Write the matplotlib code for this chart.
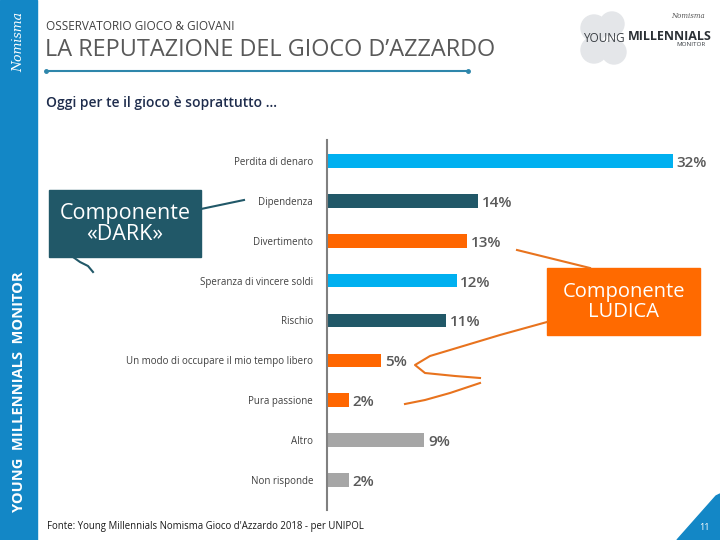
import matplotlib
matplotlib.use("Agg")
import matplotlib.pyplot as plt
from matplotlib.patches import Rectangle, Polygon, Circle
from matplotlib.lines import Line2D

# dati
categorie = ["Perdita di denaro", "Dipendenza", "Divertimento",
             "Speranza di vincere soldi", "Rischio",
             "Un modo di occupare il mio tempo libero", "Pura passione",
             "Altro", "Non risponde"]
valori = [32, 14, 13, 12, 11, 5, 2, 9, 2]
colori = ["#00B0F0", "#215868", "#FF6600", "#00B0F0", "#215868",
          "#FF6600", "#FF6600", "#A6A6A6", "#A6A6A6"]

plt.rcParams['font.family'] = ['Open Sans', 'DejaVu Sans']

fig = plt.figure(figsize=(7.2, 5.4), dpi=100)
W, H = 720, 540

# overlay in pixel per le decorazioni
deco = fig.add_axes([0, 0, 1, 1])
deco.set_xlim(0, W)
deco.set_ylim(H, 0)
deco.axis('off')

# banda laterale
deco.add_patch(Rectangle((0, 0), 37, H, color="#1387C6", zorder=1))
deco.text(19, 392, "YOUNG  MILLENNIALS  MONITOR", rotation=90, color="white",
          fontsize=10.5, fontweight='bold', ha='center', va='center')
deco.text(19, 42, "Nomisma", rotation=90, color="white", fontsize=9,
          family='DejaVu Serif', style='italic', ha='center', va='center')

# intestazione
deco.text(46, 27, "OSSERVATORIO GIOCO & GIOVANI", fontsize=8.5, color="#404040",
          va='center')
deco.text(45, 50, "LA REPUTAZIONE DEL GIOCO D\u2019AZZARDO", fontsize=16.9,
          color="#595959", va='center')
deco.add_line(Line2D([46, 468], [71, 71], color="#2E86AB", lw=1.5))
deco.plot([46, 468], [71, 71], 'o', color="#2E86AB", ms=2.5)
deco.text(46, 103, "Oggi per te il gioco è soprattutto \u2026", fontsize=10,
          color="#1F2D4D", fontweight='semibold', va='center')

# logo
for cx, cy, r in [(594, 28, 13), (612, 24, 12), (594, 50, 13), (614, 52, 12)]:
    deco.add_patch(Circle((cx, cy), r, color="#E4E6E9", zorder=1))
deco.text(583, 38, "YOUNG", fontsize=8.5, color="#3A3F44", va='center', zorder=3)
deco.text(628, 37, "MILLENNIALS", fontsize=9, color="#2B3035",
          fontweight='bold', va='center', zorder=3)
deco.text(676, 45, "MONITOR", fontsize=4.5, color="#3A3F44", va='center', zorder=3)
deco.text(688, 16, "Nomisma", fontsize=5, color="#555555", style='italic',
          family='DejaVu Serif', ha='center', va='center')

# box DARK
deco.add_patch(Rectangle((49, 190), 152, 67, color="#215868", zorder=2))
deco.text(125, 224, "Componente\n«DARK»", color="white", fontsize=15.5,
          ha='center', va='center', linespacing=1.0, zorder=3)
deco.add_line(Line2D([201, 244], [209, 200], color="#215868", lw=1.5))
deco.plot([73, 80, 88, 93], [257, 262, 266, 272], color="#215868", lw=1.5)

# box LUDICA
deco.add_patch(Rectangle((547, 268), 153, 67, color="#FF6A00", zorder=2))
deco.text(624, 302, "Componente\nLUDICA", color="white", fontsize=14.5,
          ha='center', va='center', linespacing=1.05, zorder=3)
deco.plot([517, 590], [250, 268], color="#E8731E", lw=1.5)
deco.plot([547, 500, 470, 430, 415, 425, 455, 480],
          [322, 335, 344, 356, 365, 373, 376, 378], color="#E8731E", lw=1.5)
deco.plot([480, 450, 425, 405], [383, 393, 400, 404], color="#E8731E", lw=1.5)

# fonte e numero pagina
deco.text(47, 526, "Fonte: Young Millennials Nomisma Gioco d'Azzardo 2018 - per UNIPOL",
          fontsize=6.9, color="#1A1A1A", va='center')
deco.add_patch(Polygon([(720, 494), (716, 496), (677, 540), (720, 540)],
                       closed=True, color="#1387C6"))
deco.text(704, 527, "11", fontsize=6.5, color="white", ha='center', va='center')

# grafico a barre
x0, ytop, ybot = 327, 140, 510
ax = fig.add_axes([x0 / W, (H - ybot) / H, (W - x0) / W, (ybot - ytop) / H])
ax.patch.set_alpha(0)
px = 10.8
ax.set_xlim(0, (W - x0) / px)
step = (480 - 161) / 8
ax.set_ylim(8 + (ybot - 480) / step, -(161 - ytop) / step)

pos = list(range(len(categorie)))
ax.barh(pos, valori, height=0.34, color=colori)
for p, v in zip(pos, valori):
    ax.text(v + 0.35, p + 0.05, f"{v}%", fontsize=11, color="#595959",
            fontweight='semibold', va='center', ha='left')

ax.set_yticks(pos)
ax.set_yticklabels(categorie, fontsize=7, color="#404040")
ax.tick_params(axis='y', length=0, pad=10)
ax.set_xticks([])
for s in ['top', 'right', 'bottom']:
    ax.spines[s].set_visible(False)
ax.spines['left'].set_color("#808080")
ax.spines['left'].set_linewidth(1.5)

fig.savefig("out.png", dpi=100)
